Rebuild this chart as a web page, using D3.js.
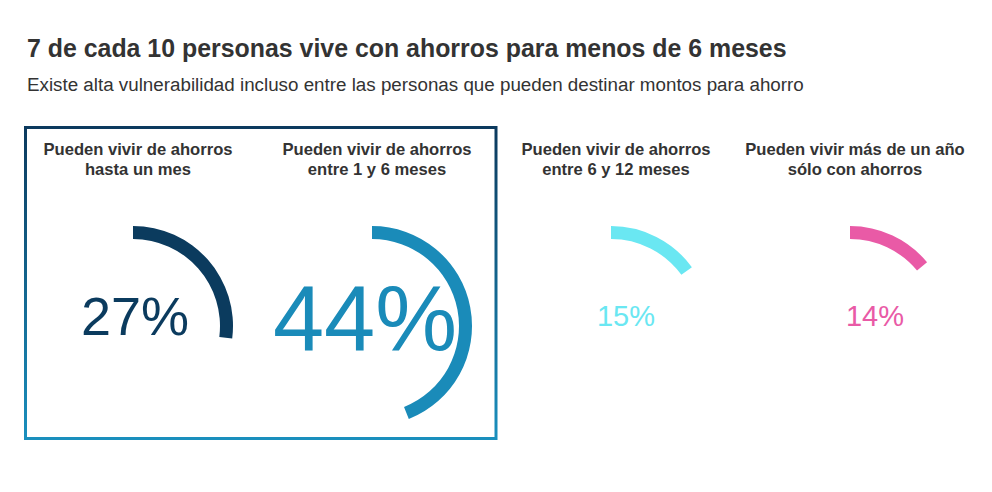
<!DOCTYPE html>
<html>
<head>
<meta charset="utf-8">
<script src="https://cdn.jsdelivr.net/npm/d3@7"></script>
<style>
  html, body { margin: 0; padding: 0; background: #fff; }
  svg { display: block; font-family: Arial, "Liberation Sans", Helvetica, sans-serif; }
</style>
</head>
<body>
<svg id="chart" width="992" height="492"></svg>
<script>
// ---- data ----
const categories = [
  ["Pueden vivir de ahorros", "hasta un mes"],
  ["Pueden vivir de ahorros", "entre 1 y 6 meses"],
  ["Pueden vivir de ahorros", "entre 6 y 12 meses"],
  ["Pueden vivir más de un año", "sólo con ahorros"]
];
const values = [27, 44, 15, 14];
const title = "7 de cada 10 personas vive con ahorros para menos de 6 meses";
const subtitle = "Existe alta vulnerabilidad incluso entre las personas que pueden destinar montos para ahorro";

// ---- styles / layout ----
const colors = ["#0b3b5e", "#1a8bb9", "#6ae7f2", "#e95aa6"];
const labelSize = [54, 92, 29, 29];
const labelDx = [2, -7, 15, 25];
const labelY = [335, 350, 326, 326];

const svg = d3.select("#chart");

svg.append("text").attr("x", 27).attr("y", 57)
  .attr("font-size", 24.9).attr("font-weight", "bold").attr("fill", "#333")
  .text(title);
svg.append("text").attr("x", 27).attr("y", 91)
  .attr("font-size", 18.8).attr("fill", "#333")
  .text(subtitle);

// gradient border box
const defs = svg.append("defs");
const grad = defs.append("linearGradient").attr("id", "boxgrad")
  .attr("x1", 0).attr("y1", 0).attr("x2", 0).attr("y2", 1);
grad.append("stop").attr("offset", "0%").attr("stop-color", "#0c3a5e");
grad.append("stop").attr("offset", "100%").attr("stop-color", "#1a8fbd");

const x = d3.scaleBand().domain(d3.range(values.length)).range([18.5, 974.5]);
const ang = d3.scaleLinear().domain([0, 100]).range([0, 2 * Math.PI]);
const arc = d3.arc().innerRadius(87).outerRadius(100).startAngle(0);

svg.append("rect")
  .attr("x", x(0) + 7).attr("y", 127.5)
  .attr("width", 2 * x.bandwidth() - 7.5).attr("height", 311)
  .attr("fill", "none").attr("stroke", "url(#boxgrad)").attr("stroke-width", 3);

const panels = svg.selectAll("g.panel").data(values).join("g")
  .attr("class", "panel")
  .attr("transform", (d, i) => `translate(${x(i) + x.bandwidth() / 2},0)`);

panels.append("text")
  .attr("text-anchor", "middle").attr("font-size", 16.6).attr("font-weight", "bold").attr("fill", "#333")
  .selectAll("tspan").data((d, i) => categories[i]).join("tspan")
  .attr("x", 0).attr("y", (d, j) => 154.5 + j * 20).text(d => d);

panels.append("path")
  .attr("transform", "translate(-5,326)")
  .attr("d", d => arc({ endAngle: ang(d) }))
  .attr("fill", (d, i) => colors[i]);

panels.append("text")
  .attr("x", (d, i) => labelDx[i] - 5).attr("y", (d, i) => labelY[i])
  .attr("text-anchor", "middle")
  .attr("font-size", (d, i) => labelSize[i])
  .attr("fill", (d, i) => colors[i])
  .text(d => d + "%");
</script>
</body>
</html>
